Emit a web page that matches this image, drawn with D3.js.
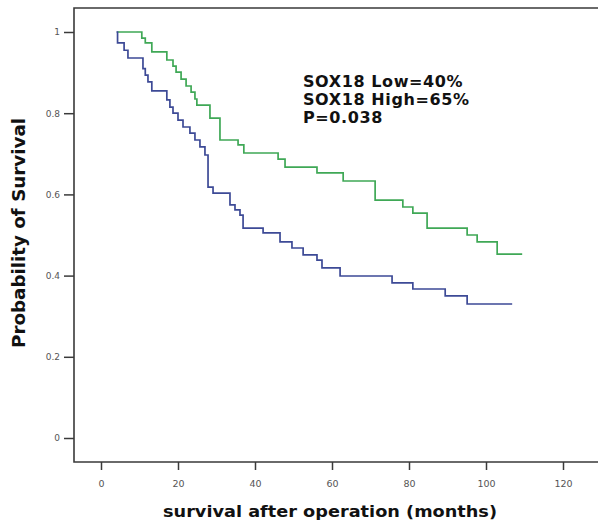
<!DOCTYPE html>
<html>
<head>
<meta charset="utf-8">
<script src="https://cdn.jsdelivr.net/npm/d3@7"></script>
<style>
  html, body { margin: 0; padding: 0; background: #fff; }
  svg { display: block; }
</style>
</head>
<body>
<svg id="chart" width="598" height="524"></svg>
<script>
// ---- data ----
const xTicks = [0, 20, 40, 60, 80, 100, 120];
const yTicks = [0, 0.2, 0.4, 0.6, 0.8, 1];
const yTickLabels = ["0", "0.2", "0.4", "0.6", "0.8", "1"];

// SOX18 Low (blue): [month, survival]
const lowTimes = [4.0, 4.3, 6.0, 7.0, 10.9, 11.5, 12.2, 13.2, 17.1, 17.9, 18.7, 20.0, 21.3, 23.1, 24.4, 25.7, 27.0, 27.8, 29.1, 33.5, 34.8, 36.1, 36.9, 42.1, 46.5, 49.6, 52.5, 56.1, 57.4, 62.1, 75.6, 81.0, 89.4, 95.1, 106.8];
const lowSurv  = [1.0, 0.973, 0.955, 0.936, 0.91, 0.894, 0.877, 0.855, 0.833, 0.815, 0.80, 0.783, 0.766, 0.751, 0.734, 0.717, 0.697, 0.618, 0.603, 0.574, 0.562, 0.549, 0.517, 0.505, 0.483, 0.468, 0.451, 0.438, 0.419, 0.399, 0.382, 0.367, 0.350, 0.330, 0.330];

// SOX18 High (green): [month, survival]
const highTimes = [4.2, 10.6, 11.5, 13.2, 17.1, 18.7, 19.5, 20.8, 22.1, 23.4, 24.4, 24.9, 28.3, 30.9, 35.6, 37.1, 46.0, 47.8, 56.1, 62.9, 71.2, 78.4, 81.0, 84.7, 95.1, 97.7, 102.9, 109.4];
const highSurv  = [1.0, 0.985, 0.973, 0.951, 0.931, 0.916, 0.901, 0.884, 0.867, 0.852, 0.835, 0.820, 0.788, 0.734, 0.722, 0.702, 0.687, 0.667, 0.653, 0.633, 0.586, 0.569, 0.554, 0.517, 0.500, 0.483, 0.453, 0.453];

const annotation = ["SOX18 Low=40%", "SOX18 High=65%", "P=0.038"];
const xTitle = "survival after operation (months)";
const yTitle = "Probability of Survival";

// ---- drawing ----
const svg = d3.select("#chart");
const x = d3.scaleLinear().domain([0, 120]).range([101, 563]);
const y = d3.scaleLinear().domain([0, 1]).range([438, 32]);

const frameLeft = 74, frameTop = 8, frameBottom = 462;

// frame (left, top, bottom; right side runs off the image)
svg.append("path")
  .attr("d", `M600,${frameTop}H${frameLeft}V${frameBottom}H600`)
  .attr("fill", "none")
  .attr("stroke", "#3a3a3a")
  .attr("stroke-width", 1.6);

// y axis ticks
const yAxis = d3.axisLeft(y)
  .tickValues(yTicks)
  .tickSize(10)
  .tickPadding(4)
  .tickFormat((d, i) => yTickLabels[i]);
const gy = svg.append("g").attr("transform", `translate(${frameLeft},0)`).call(yAxis);
gy.select(".domain").remove();
gy.selectAll(".tick line").attr("stroke", "#3a3a3a").attr("stroke-width", 1.5);
gy.selectAll(".tick text")
  .attr("fill", "#555")
  .style("font-family", "DejaVu Sans, sans-serif")
  .style("font-size", "9px");

// x axis ticks
const xAxis = d3.axisBottom(x)
  .tickValues(xTicks)
  .tickSize(8)
  .tickPadding(10)
  .tickFormat(d3.format("d"));
const gx = svg.append("g").attr("transform", `translate(0,${frameBottom})`).call(xAxis);
gx.select(".domain").remove();
gx.selectAll(".tick line").attr("stroke", "#3a3a3a").attr("stroke-width", 1.5);
gx.selectAll(".tick text")
  .attr("fill", "#555")
  .style("font-family", "DejaVu Sans, sans-serif")
  .style("font-size", "9.5px");

// curves
const line = d3.line()
  .x(d => x(d[0]))
  .y(d => y(d[1]))
  .curve(d3.curveStepAfter);

const lowData = lowTimes.map((t, i) => [t, lowSurv[i]]);
const highData = highTimes.map((t, i) => [t, highSurv[i]]);

svg.append("path")
  .datum(highData)
  .attr("d", line)
  .attr("fill", "none")
  .attr("stroke", "#3fa856")
  .attr("stroke-width", 1.7);

svg.append("path")
  .datum(lowData)
  .attr("d", line)
  .attr("fill", "none")
  .attr("stroke", "#3d4a96")
  .attr("stroke-width", 1.7);

// annotation
const ann = svg.append("text")
  .attr("x", 303)
  .attr("y", 87)
  .style("font-family", "DejaVu Sans, sans-serif")
  .style("font-weight", "bold")
  .style("font-size", "16px")
  .style("letter-spacing", "0.6px")
  .attr("fill", "#111");
annotation.forEach((s, i) => {
  ann.append("tspan").attr("x", 303).attr("dy", i === 0 ? 0 : 18).text(s);
});

// axis titles
svg.append("text")
  .attr("transform", `translate(25,233) rotate(-90)`)
  .attr("text-anchor", "middle")
  .attr("textLength", 230)
  .attr("lengthAdjust", "spacingAndGlyphs")
  .style("font-family", "DejaVu Sans, sans-serif")
  .style("font-weight", "bold")
  .style("font-size", "17px")
  .attr("fill", "#111")
  .text(yTitle);

svg.append("text")
  .attr("x", 330)
  .attr("y", 517)
  .attr("text-anchor", "middle")
  .attr("textLength", 334)
  .attr("lengthAdjust", "spacingAndGlyphs")
  .style("font-family", "DejaVu Sans, sans-serif")
  .style("font-weight", "bold")
  .style("font-size", "16.5px")
  .attr("fill", "#111")
  .text(xTitle);
</script>
</body>
</html>
